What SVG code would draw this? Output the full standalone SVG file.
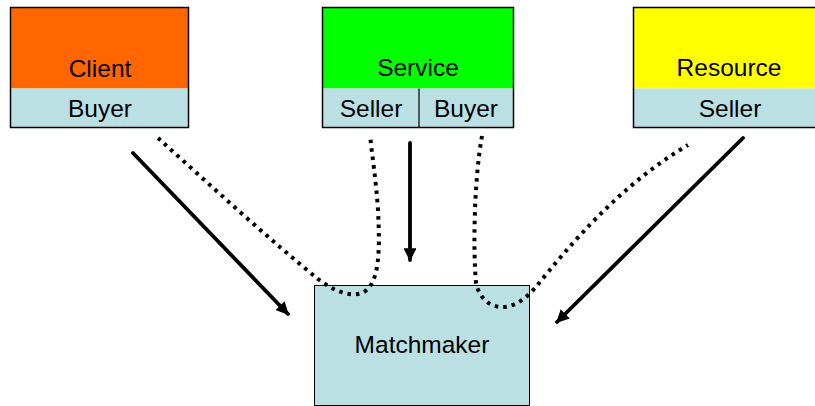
<svg xmlns="http://www.w3.org/2000/svg" width="815" height="406" viewBox="0 0 815 406">
<style>
.box{stroke:#000;stroke-width:1.5}
.lb{fill:#BBE0E3}
.t{font-family:"Liberation Sans",Arial,sans-serif;font-size:24.5px;fill:#000;text-anchor:middle}
.solid{fill:none;stroke:#000;stroke-width:3.8;stroke-linecap:round}
.dot{fill:none;stroke:#000;stroke-width:4;stroke-dasharray:3.5 5}
</style>
<defs>
<marker id="ah" viewBox="0 0 10 10" refX="9" refY="5" markerWidth="3.4" markerHeight="3.4" orient="auto" markerUnits="strokeWidth">
<path d="M0,0 L10,5 L0,10 z" fill="#000"/>
</marker>
</defs>
<rect width="815" height="406" fill="#fff"/>
<g id="client">
<rect x="10.5" y="7.5" width="178" height="81" fill="#FF6600"/>
<rect x="10.5" y="88.5" width="178" height="39" class="lb"/>
<rect x="10.5" y="7.5" width="178" height="120" fill="none" class="box"/>
<text class="t" x="100" y="77">Client</text>
<text class="t" x="100" y="117">Buyer</text>
</g>
<g id="service">
<rect x="322.5" y="7.5" width="191" height="81" fill="#00FF00"/>
<rect x="322.5" y="88.5" width="191" height="39" class="lb"/>
<rect x="322.5" y="7.5" width="191" height="120" fill="none" class="box"/>
<line x1="419" y1="88.5" x2="419" y2="127.5" stroke="#000" stroke-width="1.2"/>
<text class="t" x="418" y="76">Service</text>
<text class="t" x="371" y="117">Seller</text>
<text class="t" x="466" y="117">Buyer</text>
</g>
<g id="resource">
<rect x="633.5" y="7.5" width="190" height="81" fill="#FFFF00"/>
<rect x="633.5" y="88.5" width="190" height="39" class="lb"/>
<rect x="633.5" y="7.5" width="190" height="120" fill="none" class="box"/>
<text class="t" x="729" y="76">Resource</text>
<text class="t" x="730" y="117">Seller</text>
</g>
<g id="matchmaker">
<rect x="314.5" y="285.5" width="215" height="120" class="lb" stroke="#000" stroke-width="1"/>
<text class="t" x="422" y="353">Matchmaker</text>
</g>
<g id="connectors">
<line class="solid" x1="133" y1="153" x2="288" y2="314" marker-end="url(#ah)"/>
<line class="solid" x1="410" y1="143" x2="410" y2="260" marker-end="url(#ah)"/>
<line class="solid" x1="743" y1="138" x2="557" y2="322" marker-end="url(#ah)"/>
<path class="dot" d="M158,138 C210,185 270,240 318,279 C335,292 350,297 362,293 C380,285 380,250 378,210 C376,180 372,155 370,135"/>
<path class="dot" d="M482,136 C474,180 473,250 476,283 C480,302 495,310 510,306 C520,303 528,296 535,288 C570,245 620,185 688,145"/>
</g>
</svg>
